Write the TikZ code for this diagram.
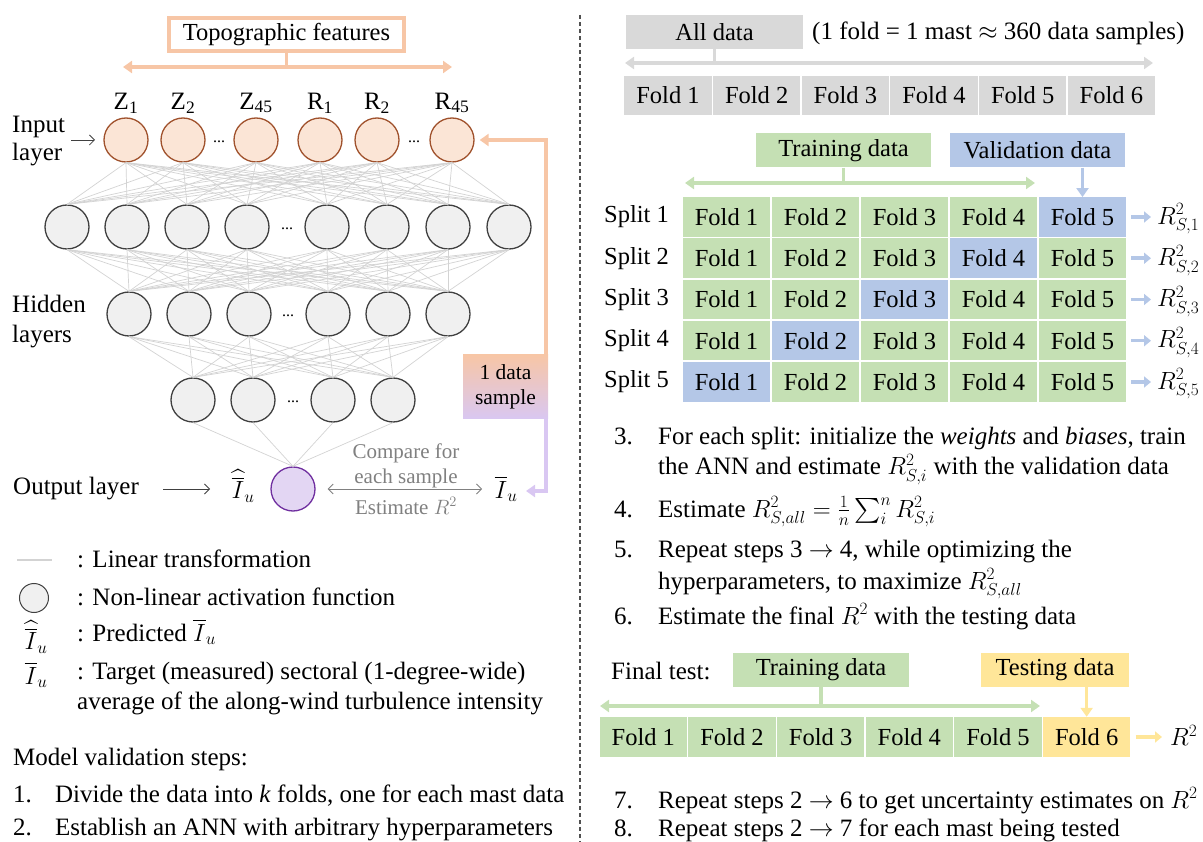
\documentclass[tikz,border=0pt]{standalone}
\usepackage{exscale}
\usepackage{fontspec}
\setmainfont{Liberation Serif}
\usetikzlibrary{arrows.meta}
\definecolor{gfill}{HTML}{D9D9D9}
\definecolor{grn}{HTML}{C5E0B4}
\definecolor{blu}{HTML}{B4C7E7}
\definecolor{yel}{HTML}{FFE699}
\definecolor{org}{HTML}{F7C6A6}
\definecolor{lav}{HTML}{D9C7F2}
\definecolor{infill}{HTML}{FBE5D6}
\definecolor{indraw}{HTML}{A0522D}
\definecolor{hidfill}{HTML}{F0F0F0}
\definecolor{hiddraw}{HTML}{404040}
\definecolor{outfill}{HTML}{E3D6F3}
\definecolor{outdraw}{HTML}{7030A0}
\definecolor{conncol}{HTML}{D3D3D3}
\definecolor{cmpcol}{HTML}{808080}
\definecolor{sepcol}{HTML}{505050}
\newcommand\Ihat{\widehat{\overline{I}}_{u}}
\newcommand\Ibar{\overline{I}_{u}}
\begin{document}
\begin{tikzpicture}[x=1pt,y=-1pt,
  every node/.style={inner sep=0pt, font=\fontsize{25}{30}\selectfont},
  inn/.style={circle, draw=indraw, fill=infill, line width=1.3pt, minimum size=44pt},
  hid/.style={circle, draw=hiddraw, fill=hidfill, line width=1.3pt, minimum size=44pt},
  outn/.style={circle, draw=outdraw, fill=outfill, line width=1.3pt, minimum size=44pt},
  conn/.style={draw=conncol, line width=0.7pt},
  dots/.style={font=\fontsize{16}{16}\selectfont},
  fold/.style={minimum width=87.5pt, minimum height=39.5pt, font=\fontsize{24.5}{28}\selectfont},
  tag/.style={minimum height=34pt, font=\fontsize{24.5}{28}\selectfont},
  bigarr/.style={line width=3.5pt, -{Triangle[length=9pt,width=12pt]}},
  dblarr/.style={line width=3.5pt, {Triangle[length=9pt,width=12pt]}-{Triangle[length=9pt,width=12pt]}},
  stem/.style={line width=3.5pt},
  smallarr/.style={line width=3.5pt, -{Triangle[length=7pt,width=11pt]}},
  thinarr/.style={draw=hiddraw, line width=0.8pt, -{Straight Barb[length=5pt,width=10pt]}},
  txt/.style={anchor=base west},
  cmp/.style={text=cmpcol, font=\fontsize{21}{24}\selectfont},
]
\useasboundingbox (0,0) rectangle (1203,842);

% ---------------- Left: network ----------------
\node[draw=org, line width=3.5pt, minimum width=235pt, minimum height=33pt, font=\fontsize{24.5}{28}\selectfont] (topo) at (286.5,34.5) {Topographic features};
\coordinate (tl) at (123,67);
\coordinate (tr) at (452,67);
\draw[dblarr, org] (tl) -- (tr);
\draw[stem, org] (topo.south) -- (topo.south |- tl);

% input layer
\foreach \n/\x/\lab in {1/126/Z\textsubscript{1}, 2/183/Z\textsubscript{2}, 3/256/Z\textsubscript{45}, 4/320/R\textsubscript{1}, 5/377/R\textsubscript{2}, 6/452/R\textsubscript{45}} {
  \node[inn] (i\n) at (\x,140) {};
  \node (zl\n) at (\x,103) {\lab};
}
\node[dots] (d0a) at (219,142) {...};
\node[dots] (d0b) at (414,142) {...};

% hidden layer 1
\foreach \n/\x in {1/67, 2/127, 3/187, 4/247, 5/327, 6/387, 7/448, 8/509} {
  \node[hid] (a\n) at (\x,227) {};
}
\node[dots] (d1) at (287,229) {...};
% hidden layer 2
\foreach \n/\x in {1/129, 2/189, 3/249, 4/328, 5/388, 6/448} {
  \node[hid] (b\n) at (\x,314) {};
}
\node[dots] (d2) at (288,316) {...};
% hidden layer 3
\foreach \n/\x in {1/193, 2/253, 3/333, 4/393} {
  \node[hid] (c\n) at (\x,400) {};
}
\node[dots] (d3) at (293,402) {...};
% output
\node[outn] (out) at (293,489) {};

% connections
\foreach \p in {1,...,6} \foreach \q in {1,...,8} \draw[conn] (i\p.south) -- (a\q.north);
\foreach \p in {1,...,8} \foreach \q in {1,...,6} \draw[conn] (a\p.south) -- (b\q.north);
\foreach \p in {1,...,6} \foreach \q in {1,...,4} \draw[conn] (b\p.south) -- (c\q.north);
\foreach \p in {1,...,4} \draw[conn] (c\p.south) -- (out.north);

% layer labels
\node[anchor=west, align=left, font=\fontsize{25}{28}\selectfont] (inlab) at (12,141) {Input\\layer};
\coordinate (ia1) at (71,140);
\coordinate (ia2) at (95,140);
\draw[thinarr] (ia1) -- (ia2);
\node[anchor=west, align=left, font=\fontsize{25}{30}\selectfont] (hidlab) at (12,322) {Hidden\\layers};
\node[anchor=west] (outlab) at (13,489) {Output layer};
\coordinate (oa1) at (163,489);
\coordinate (oa2) at (210,489);
\draw[thinarr] (oa1) -- (oa2);
\node (ihat) at (243,486) {$\Ihat$};
\node (ibar) at (506,489) {$\Ibar$};

% compare
\node[cmp] (cmp1) at (406,453) {Compare for};
\node[cmp] (cmp2) at (406,478) {each sample};
\node[cmp] (cmp3) at (406,506) {Estimate $R^2$};
\draw[draw=cmpcol, line width=0.8pt, {Straight Barb[length=5pt,width=10pt]}-{Straight Barb[length=5pt,width=10pt]}] (out.east) ++(12,0) coordinate (ca1) -- (ibar.west -| 482,0);

% data sample feedback
\node[minimum width=85pt, minimum height=64pt, top color=org, bottom color=lav, align=center, font=\fontsize{21.5}{25}\selectfont] (samp) at (505.5,387) {1 data\\sample};
\coordinate (fbtop) at (546,140);
\coordinate (fbbot) at (546,491);
\draw[org, line width=3.5pt, -{Triangle[length=9pt,width=12pt]}, shorten >=5pt] (samp.north -| fbtop) -- (fbtop) -- (i6.east);
\draw[lav, line width=3.5pt, -{Triangle[length=9pt,width=12pt]}] (samp.south -| fbbot) -- (fbbot) -- (fbbot -| 526,0);

% legend
\coordinate (lg1) at (17,560);
\coordinate (lg2) at (52,560);
\draw[draw=conncol, line width=1.4pt] (lg1) -- (lg2);
\node[txt] at (77,567) {: Linear transformation};
\node[hid, minimum size=29pt, line width=1pt] (lgc) at (34,598) {};
\node[txt] at (77,605) {: Non-linear activation function};
\node (lgh) at (36,637) {$\Ihat$};
\node[txt] at (77,641) {: Predicted $\Ibar$};
\node (lgb) at (36,675) {$\Ibar$};
\node[txt] at (77,679) {: Target (measured) sectoral (1-degree-wide)};
\node[txt] at (77,709) {average of the along-wind turbulence intensity};
\node[txt] at (13,765) {Model validation steps:};
\node[txt] at (13,802) {1.};
\node[txt] at (55,802) {Divide the data into \textit{k} folds, one for each mast data};
\node[txt] at (13,835) {2.};
\node[txt] at (55,835) {Establish an ANN with arbitrary hyperparameters};

% separator
\draw[sepcol, line width=1.3pt, dash pattern=on 4pt off 3pt] (580,15) -- (580,842);

% ---------------- Right: cross validation ----------------
\node[tag, fill=gfill, minimum width=177pt] (alld) at (714.5,32) {All data};
\node[txt] at (812,40) {(1 fold = 1 mast $\approx$ 360 data samples)};
\foreach \i in {1,...,6} {
  \pgfmathsetmacro\xx{668+88.67*(\i-1)}
  \node[fold, fill=gfill] (g\i) at (\xx,95.5) {Fold \i};
}
\coordinate (gl) at (625,63);
\coordinate (gr) at (1153,63);
\draw[dblarr, gfill] (gl) -- (gr);
\draw[stem, gfill] (alld.south) -- (alld.south |- gl);

\node[tag, fill=grn, minimum width=175pt] (trn) at (843.5,150.5) {Training data};
\node[tag, fill=blu, minimum width=175pt] (val) at (1037.5,150.5) {Validation data};
\coordinate (trl) at (685,183);
\coordinate (trr) at (1035,183);
\draw[dblarr, grn] (trl) -- (trr);
\draw[stem, grn] (trn.south) -- (trn.south |- trl);

\foreach \j in {1,...,5} {
  \pgfmathsetmacro\yy{217+41.25*(\j-1)}
  \node[anchor=west, font=\fontsize{24.5}{28}\selectfont] (sp\j) at (604,\yy) {Split \j};
  \foreach \i in {1,...,5} {
    \pgfmathsetmacro\xx{726.5+89*(\i-1)}
    \pgfmathtruncatemacro\ss{\i+\j}
    \ifnum\ss=6 \def\fc{blu}\else\def\fc{grn}\fi
    \node[fold, fill=\fc] (s\j\i) at (\xx,\yy) {Fold \i};
  }
  \node[anchor=west] (r\j) at (1157,\yy+2) {$R^2_{S,\j}$};
  \draw[smallarr, blu, shorten <=5pt, shorten >=6pt] (s\j5.east) -- (r\j.west |- s\j5.east);
}
\draw[bigarr, blu] (val.south -| s15.north) -- (s15.north);

\node[txt] at (614,444) {3.};
\node[txt] at (658,444) {For each split: initialize the \textit{weights} and \textit{biases}, train};
\node[txt] at (658,475) {the ANN and estimate $R^2_{S,i}$ with the validation data};
\node[txt] at (614,517) {4.};
\node[txt] at (658,517) {Estimate $R^2_{S,all}=\frac{1}{n}\sum_i^n R^2_{S,i}$};
\node[txt] at (614,557) {5.};
\node[txt] at (658,557) {Repeat steps 3 $\rightarrow$ 4, while optimizing the};
\node[txt] at (658,589) {hyperparameters, to maximize $R^2_{S,all}$};
\node[txt] at (614,624) {6.};
\node[txt] at (658,624) {Estimate the final $R^2$ with the testing data};

\node[txt] at (611,679) {Final test:};
\node[tag, fill=grn, minimum width=176pt] (ftr) at (821,670) {Training data};
\node[tag, fill=yel, minimum width=148pt] (fte) at (1055,670) {Testing data};
\foreach \i in {1,...,6} {
  \pgfmathsetmacro\xx{643.3+88.67*(\i-1)}
  \ifnum\i=6 \def\fc{yel}\else\def\fc{grn}\fi
  \node[fold, fill=\fc, minimum height=40pt] (f\i) at (\xx,737) {Fold \i};
}
\coordinate (fl) at (600,706);
\coordinate (fr) at (1040,706);
\draw[dblarr, grn] (fl) -- (fr);
\draw[stem, grn] (ftr.south) -- (ftr.south |- fl);
\draw[bigarr, yel] (fte.south -| f6.north) -- (f6.north);
\node[anchor=west] (rfin) at (1170,735) {$R^2$};
\draw[smallarr, yel, shorten <=5pt, shorten >=8pt] (f6.east) -- (rfin.west |- f6.east);

\node[txt] at (614,808) {7.};
\node[txt] at (658,808) {Repeat steps 2 $\rightarrow$ 6 to get uncertainty estimates on $R^2$};
\node[txt] at (614,836) {8.};
\node[txt] at (658,836) {Repeat steps 2 $\rightarrow$ 7 for each mast being tested};
\end{tikzpicture}
\end{document}
